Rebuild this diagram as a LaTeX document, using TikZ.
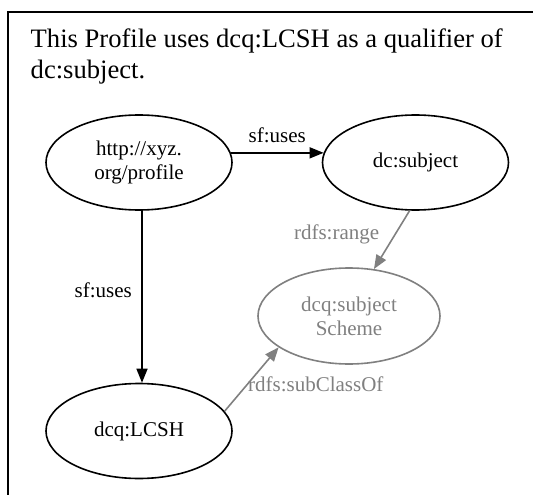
\documentclass[tikz,border=0pt]{standalone}
\usetikzlibrary{arrows.meta,shapes.geometric}
\usepackage{xcolor}
\usepackage{fontspec}
\setmainfont{Liberation Serif}
\definecolor{faded}{gray}{0.5}

\begin{document}
\begin{tikzpicture}[x=1pt, y=-1pt,
        term/.style={ellipse, draw=black, line width=1.6pt, minimum width=186pt, minimum height=95pt, inner sep=0pt, align=center, font=\fontsize{21}{24}\selectfont},
        ghost/.style={term, draw=faded, text=faded, minimum width=182pt, minimum height=96pt},
        uses/.style={draw=black, line width=1.6pt, -{Triangle[length=14pt,width=11pt]}},
        rel/.style={uses, draw=faded},
        lbl/.style={font=\fontsize{21}{24}\selectfont}]
        \useasboundingbox (0,0) rectangle (533,495);
        \draw[line width=1.6pt] (8,505) |- (545,12);
        \node[anchor=north west, inner sep=0pt, align=left, font=\fontsize{26.6}{31}\selectfont] (caption) at (30.5,28.8)
                {This Profile uses dcq:LCSH as a qualifier of\\dc:subject.};

        \node[term] (profile) at (139,162.5) {http://xyz.\\ org/profile};
        \node[term] (subject) at (415.5,162.5) {dc:subject};
        \node[ghost] (scheme) at (349,316) {dcq:subject\\ Scheme};
        \node[term] (lcsh) at (139,431) {dcq:LCSH};

        \draw[uses] (profile.6) -- node[lbl, above, yshift=6pt] {sf:uses} (subject.174);
        \draw[uses] ([xshift=3pt]profile.south) -- node[lbl, left, pos=0.46, xshift=-6pt] {sf:uses} ([xshift=3pt]lcsh.north);
        \draw[rel] (subject.263) -- node[lbl, left, xshift=-12pt, pos=0.4, text=faded] {rdfs:range} (scheme.62);
        \draw[rel] (lcsh.13) -- node[lbl, right, pos=0.415, xshift=-3pt, text=faded] {rdfs:subClassOf} (scheme.204);
\end{tikzpicture}
\end{document}
